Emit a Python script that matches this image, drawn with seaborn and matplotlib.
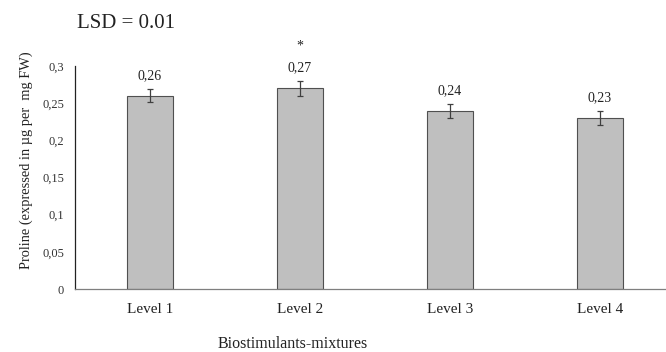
import matplotlib
matplotlib.use("Agg")
import matplotlib.pyplot as plt
import seaborn as sns

# Datos del grafico
niveles = ["Level 1", "Level 2", "Level 3", "Level 4"]
prolina = [0.26, 0.27, 0.24, 0.23]
error = [0.009, 0.01, 0.0095, 0.0095]
etiquetas = ["0,26", "0,27", "0,24", "0,23"]
marcas = ["", "*", "", ""]
yticks = [0, 0.05, 0.1, 0.15, 0.2, 0.25, 0.3]
ytick_labels = ["0", "0,05", "0,1", "0,15", "0,2", "0,25", "0,3"]

sns.set_style("white")
plt.rcParams["font.family"] = ["Liberation Serif", "DejaVu Serif"]

fig = plt.figure(figsize=(6.66, 3.52), dpi=100)
ax = fig.add_axes([75 / 666, 1 - 289 / 352, 600 / 666, 223 / 352])

sns.barplot(x=niveles, y=prolina, width=0.31, color="#bfbfbf", saturation=1,
            edgecolor="#505050", linewidth=0.8, ax=ax)
ax.errorbar(range(len(niveles)), prolina, yerr=error, fmt="none",
            ecolor="#404040", elinewidth=0.9, capsize=2.5, capthick=0.9)

# Etiquetas de valores
for i, v in enumerate(prolina):
    ax.text(i, v + error[i] + 0.009, etiquetas[i], ha="center", va="bottom",
            fontsize=10, color="#222222")
    if marcas[i]:
        ax.text(i, v + error[i] + 0.038, marcas[i], ha="center", va="bottom",
                fontsize=10, color="#222222")

ax.set_xlim(-0.5, 3.5)
ax.set_ylim(0, 0.3)
ax.set_yticks(yticks)
ax.set_yticklabels(ytick_labels, fontsize=9, color="#333333")
ax.tick_params(axis="x", labelsize=11, colors="#222222", length=0, pad=10)
ax.tick_params(axis="y", length=0, pad=8)

for lado in ["top", "right"]:
    ax.spines[lado].set_visible(False)
ax.spines["left"].set_color("#222222")
ax.spines["left"].set_linewidth(0.9)
ax.spines["bottom"].set_color("#7f7f7f")
ax.spines["bottom"].set_linewidth(0.9)

ax.set_xlabel("")
ax.set_ylabel("Proline (expressed in µg per  mg FW)", fontsize=10.4, color="#222222")
ax.yaxis.set_label_coords(-0.07, 0.578)

fig.text(293 / 666, 1 - 344 / 352, "Biostimulants-mixtures", ha="center", va="center",
         fontsize=11.5, color="#222222")
fig.text(77 / 666, 1 - 23 / 352, "LSD = 0.01", ha="left", va="center",
         fontsize=15, color="#222222")

fig.savefig("out.png", dpi=100)
